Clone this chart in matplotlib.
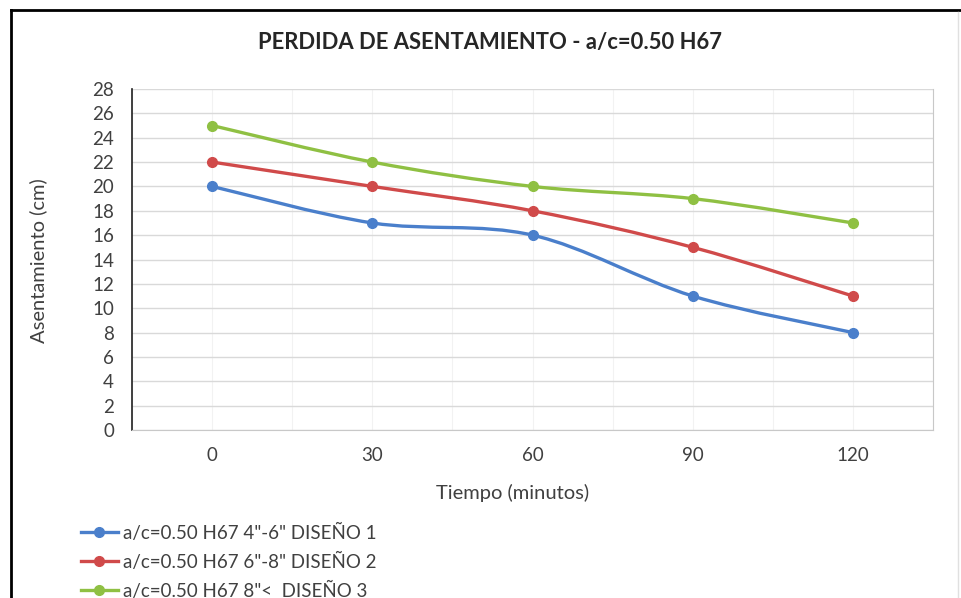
import matplotlib
matplotlib.use("Agg")
import matplotlib.pyplot as plt
from matplotlib.path import Path
from matplotlib.patches import PathPatch
from matplotlib.lines import Line2D
import numpy as np

plt.rcParams["font.family"] = ["Lato", "DejaVu Sans"]

tiempo = ["0", "30", "60", "90", "120"]
diseno_1 = [20, 17, 16, 11, 8]
diseno_2 = [22, 20, 18, 15, 11]
diseno_3 = [25, 22, 20, 19, 17]
labels = [
    'a/c=0.50 H67 4"-6" DISEÑO 1',
    'a/c=0.50 H67 6"-8" DISEÑO 2',
    'a/c=0.50 H67 8"<  DISEÑO 3',
]
colours = ["#4a7fcb", "#d04a4a", "#8fc043"]


def smooth_path(x, y):
    # excel-like smoothed line: cubic bezier segments through the points
    pts = np.column_stack([x, y]).astype(float)
    verts = [pts[0]]
    codes = [Path.MOVETO]
    n = len(pts)
    for i in range(n - 1):
        p0 = pts[i - 1] if i > 0 else pts[i]
        p1, p2 = pts[i], pts[i + 1]
        p3 = pts[i + 2] if i + 2 < n else pts[i + 1]
        c1 = p1 + (p2 - p0) / 6.0
        c2 = p2 - (p3 - p1) / 6.0
        verts += [c1, c2, p2]
        codes += [Path.CURVE4] * 3
    return Path(verts, codes)


fig = plt.figure(figsize=[9.61, 5.98], dpi=100)
ax = fig.add_axes([0.1374, 0.2809, 0.8335, 0.5703])

xs = np.arange(len(tiempo))
for vals, col in zip([diseno_1, diseno_2, diseno_3], colours):
    ax.add_patch(PathPatch(smooth_path(xs, vals), facecolor="none",
                           edgecolor=col, lw=2.4, capstyle="round", zorder=3))
    ax.plot(xs, vals, ls="none", marker="o", ms=7, color=col, zorder=4)

ax.set_xlim(-0.5, len(tiempo) - 0.5)
ax.set_ylim(0, 28)
ax.set_yticks(range(0, 29, 2))
ax.set_xticks(xs)
ax.set_xticklabels(tiempo)
ax.set_xticks(np.arange(-0.5, len(tiempo), 1.0), minor=True)
ax.tick_params(which="both", length=0, labelsize=13.5, colors="#404040")
ax.tick_params(axis="x", pad=12)
ax.tick_params(axis="y", pad=13)
ax.grid(axis="y", color="#d9d9d9", lw=1)
ax.grid(axis="x", which="both", color="#f2f2f2", lw=0.8)
ax.set_axisbelow(True)
ax.spines["top"].set_visible(False)
ax.spines["left"].set_color("#202020")
ax.spines["left"].set_linewidth(1.2)
ax.spines["bottom"].set_color("#c8c8c8")
ax.spines["right"].set_color("#c8c8c8")

fig.text(0.51, 0.929, "PERDIDA DE ASENTAMIENTO - a/c=0.50 H67",
         ha="center", va="center", fontsize=15.8, fontweight="bold", color="#262626")
fig.text(0.040, 0.565, "Asentamiento (cm)", rotation=90, ha="center",
         va="center", fontsize=14.5, color="#404040")
fig.text(0.533, 0.175, "Tiempo (minutos)", ha="center", va="center",
         fontsize=14.5, color="#404040")

handles = [Line2D([], [], color=c, lw=2.4, marker="o", ms=7) for c in colours]
fig.legend(handles, labels, loc="upper left", bbox_to_anchor=(0.076, 0.137),
           frameon=False, fontsize=13.5, handlelength=2.0, handletextpad=0.25,
           labelspacing=0.58, borderaxespad=0, labelcolor="#404040")

# outer frame edges of the original picture
fig.add_artist(Line2D([0.011, 0.011], [0.0, 0.983], color="black", lw=2))
fig.add_artist(Line2D([0.011, 1.0], [0.983, 0.983], color="black", lw=2))
fig.add_artist(Line2D([0.997, 0.997], [0.0, 0.98], color="#e0e0e0", lw=1))

fig.savefig("out.png", dpi=100)
